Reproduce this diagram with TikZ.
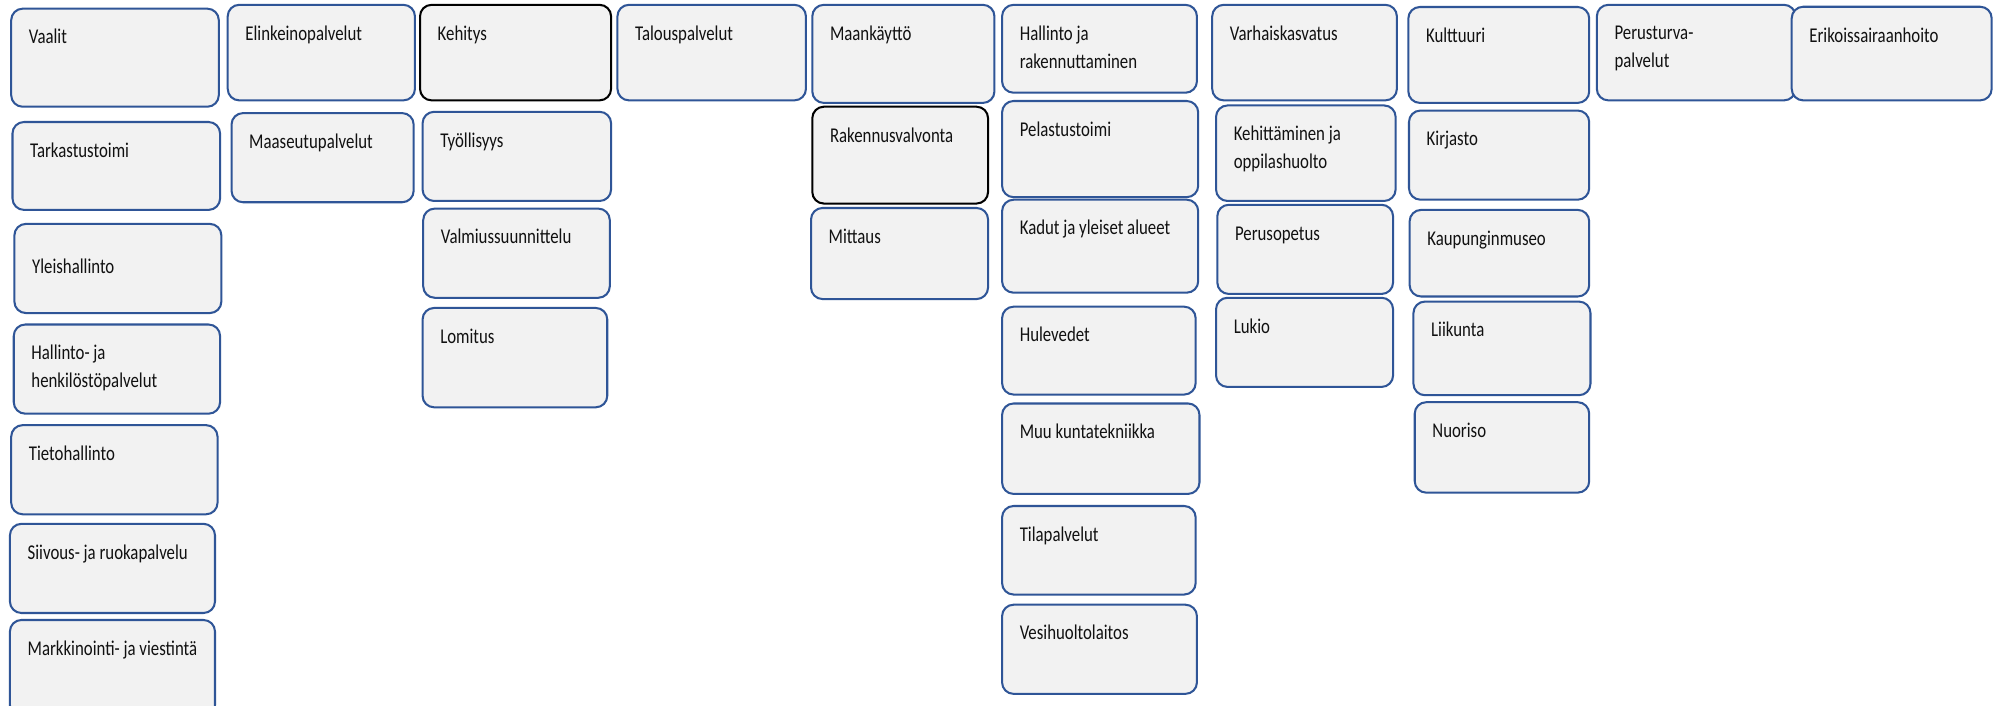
\documentclass[tikz,border=0pt]{standalone}
\usepackage{fontspec}
\setmainfont{Carlito}[FakeStretch=0.8]
\definecolor{boxblue}{HTML}{2F5597}
\definecolor{boxfill}{HTML}{F2F2F2}
\definecolor{txt}{HTML}{111111}
\tikzset{
  box/.style={draw=boxblue, fill=boxfill, line width=1.6pt, rounded corners=9pt, inner sep=0pt},
  blackbox/.style={draw=black},
  plainbox/.style={},
  lbl/.style={inner sep=0pt, text=txt, font=\fontsize{16.5}{22}\selectfont}
}
\newcommand\obox[8]{%
  \pgfmathsetmacro\bw{#4-#2}\pgfmathsetmacro\bh{#5-#3}%
  \node[box,#6,minimum width=\bw pt,minimum height=\bh pt,anchor=north west] (#1) at (#2,#3) {};
  \node[lbl,anchor=base west] (#1-t) at ([xshift=14.5pt,yshift=-#7pt]#1.north west) {#8};
}
\begin{document}
\begin{tikzpicture}[x=1pt,y=-1pt]
\useasboundingbox[fill=white] (0,0) rectangle (1568,554);
% column 1
\obox{vaalit}{8}{6}{171}{83}{plainbox}{28.5}{Vaalit}
\obox{tark}{9}{95}{172}{164}{plainbox}{28.5}{Tarkastustoimi}
\obox{yleis}{10.5}{175}{173}{245}{plainbox}{40}{Yleishallinto}
\obox{hallhenk}{10}{254}{172}{324}{plainbox}{28.5}{\vtop{\hbox{Hallinto- ja}\hbox{henkilöstöpalvelut}}}
\obox{tieto}{8}{333}{170}{403}{plainbox}{28.5}{Tietohallinto}
\obox{siivous}{7}{410.5}{168}{480.5}{plainbox}{28.5}{Siivous- ja ruokapalvelu}
\obox{markk}{7}{486}{168}{562}{plainbox}{28.5}{Markkinointi- ja viestintä}
% column 2
\obox{elink}{178}{3}{325}{78}{plainbox}{28.5}{Elinkeinopalvelut}
\obox{maaseutu}{181}{88}{324}{158}{plainbox}{28.5}{Maaseutupalvelut}
% column 3
\obox{kehitys}{329}{3}{479}{78}{blackbox}{28.5}{Kehitys}
\obox{tyoll}{331}{87}{479}{157}{plainbox}{28.5}{Työllisyys}
\obox{valmius}{331.5}{163}{478}{233}{plainbox}{28.5}{Valmiussuunnittelu}
\obox{lomitus}{331}{241}{476}{319}{plainbox}{28.5}{Lomitus}
% column 4
\obox{talous}{484}{3}{632}{78}{plainbox}{28.5}{Talouspalvelut}
% column 5
\obox{maank}{637}{3}{780}{80}{plainbox}{28.5}{Maankäyttö}
\obox{rakval}{637}{83}{775}{159}{blackbox}{28.5}{Rakennusvalvonta}
\obox{mittaus}{636}{162.5}{775}{234}{plainbox}{28.5}{Mittaus}
% column 6
\obox{hallrak}{786}{3}{939}{72}{plainbox}{29}{\vtop{\hbox{Hallinto ja}\hbox{rakennuttaminen}}}
\obox{pelastus}{786}{78.5}{940}{154}{plainbox}{28.5}{Pelastustoimi}
\obox{kadut}{786}{156}{940}{229}{plainbox}{28.5}{Kadut ja yleiset alueet}
\obox{hule}{786}{240}{938}{309}{plainbox}{28.5}{Hulevedet}
\obox{muu}{786}{316}{941}{387}{plainbox}{28.5}{Muu kuntatekniikka}
\obox{tila}{786}{396.5}{938}{466}{plainbox}{28.5}{Tilapalvelut}
\obox{vesi}{786}{474}{939}{544}{plainbox}{28.5}{Vesihuoltolaitos}
% column 7
\obox{varhais}{951}{3}{1096}{78}{plainbox}{28.5}{Varhaiskasvatus}
\obox{kehopp}{954}{82}{1095}{157}{plainbox}{28.5}{\vtop{\hbox{Kehittäminen ja}\hbox{oppilashuolto}}}
\obox{perusop}{955}{160}{1093}{230}{plainbox}{28.5}{Perusopetus}
\obox{lukio}{954}{233}{1093}{303}{plainbox}{28.5}{Lukio}
% column 8
\obox{kulttuuri}{1105}{4.7}{1247}{80}{plainbox}{28.5}{Kulttuuri}
\obox{kirjasto}{1105.5}{86}{1247}{156}{plainbox}{28.5}{Kirjasto}
\obox{museo}{1106}{164}{1247}{232}{plainbox}{28.5}{Kaupunginmuseo}
\obox{liikunta}{1109}{236}{1248}{309.5}{plainbox}{28.5}{Liikunta}
\obox{nuoriso}{1110}{315}{1247}{386}{plainbox}{28.5}{Nuoriso}
% column 9
\obox{perusturva}{1253}{3}{1409}{78}{plainbox}{28}{\vtop{\hbox{Perusturva-}\hbox{palvelut}}}
\obox{erikois}{1406}{4.5}{1563}{78}{plainbox}{28.5}{Erikoissairaanhoito}
\end{tikzpicture}
\end{document}
